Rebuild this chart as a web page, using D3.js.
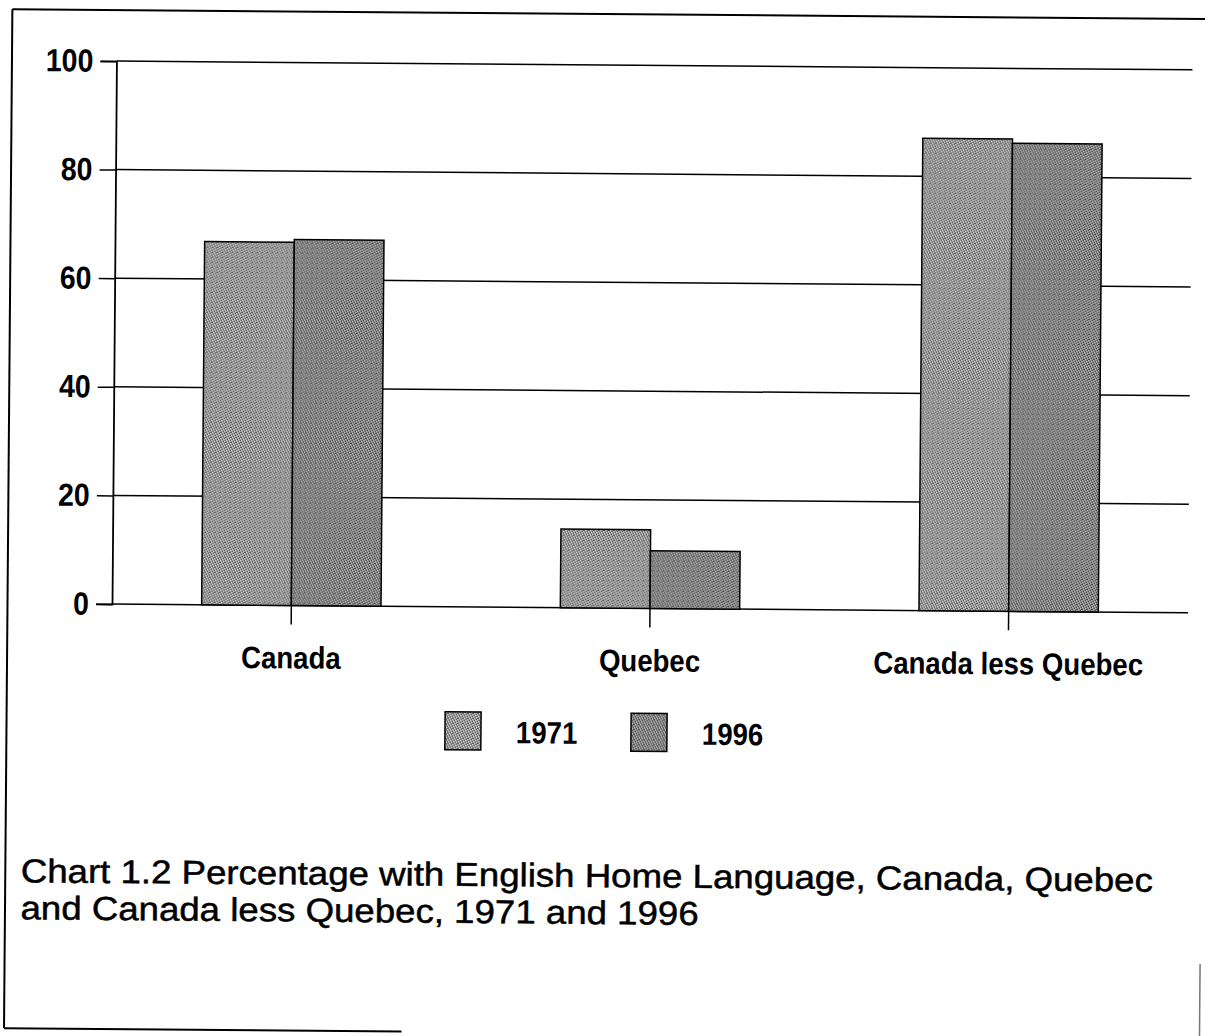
<!DOCTYPE html>
<html>
<head>
<meta charset="utf-8">
<script src="https://cdn.jsdelivr.net/npm/d3@7"></script>
<style>
  body { margin: 0; background: #fff; }
  text { font-family: "Liberation Sans", Arial, sans-serif; fill: #000; }
</style>
</head>
<body>
<div id="chart"></div>
<script>
// values
const categories = ["Canada", "Quebec", "Canada less Quebec"];
const years = ["1971", "1996"];
const values1971 = [66.9, 14.5, 87.0];
const values1996 = [67.4, 10.6, 86.2];
const yTicks = [0, 20, 40, 60, 80, 100];
const titleLines = [
    "Chart 1.2 Percentage with English Home Language, Canada, Quebec",
    "and Canada less Quebec, 1971 and 1996"
];

const width = 1205, height = 1036;
const plotLeft = 112, plotRight = 1188, plotTop = 61, plotBottom = 604;
const squeeze = 0.89; // bold labels in the scan are a little narrow

const svg = d3.select("#chart")
    .append("svg")
    .attr("width", width)
    .attr("height", height);

// stipple so the bars look like the scan
const defs = svg.append("defs");
function stipple(id, base, dark, light) {
    const p = defs.append("pattern")
        .attr("id", id)
        .attr("width", 5).attr("height", 5)
        .attr("patternUnits", "userSpaceOnUse");
    p.append("rect").attr("width", 5).attr("height", 5).attr("fill", base);
    [[0, 0], [3, 1], [1, 2], [4, 3], [2, 4], [2, 1]].forEach(d => {
        p.append("rect").attr("x", d[0]).attr("y", d[1]).attr("width", 1).attr("height", 1).attr("fill", dark);
    });
    [[1, 0], [4, 1], [0, 3], [3, 4], [2, 2]].forEach(d => {
        p.append("rect").attr("x", d[0]).attr("y", d[1]).attr("width", 1).attr("height", 1).attr("fill", light);
    });
}
stipple("fill1971", "#9a9a9a", "#555", "#d6d6d6");
stipple("fill1996", "#868686", "#444", "#c0c0c0");

// the scanned page is tilted a little clockwise
const page = svg.append("g")
    .attr("transform", `rotate(0.47, ${plotLeft}, ${plotBottom})`);

// frame (partly lost in the scan)
page.append("line").attr("x1", 7.5).attr("y1", 10).attr("x2", 1203).attr("y2", 10)
    .attr("stroke", "#000").attr("stroke-width", 2);
page.append("line").attr("x1", 7.5).attr("y1", 10).attr("x2", 7.5).attr("y2", 1029)
    .attr("stroke", "#000").attr("stroke-width", 2);
page.append("line").attr("x1", 7.5).attr("y1", 1029).attr("x2", 405).attr("y2", 1029)
    .attr("stroke", "#000").attr("stroke-width", 2);
page.append("line").attr("x1", 1203).attr("y1", 955).attr("x2", 1203).attr("y2", 1029)
    .attr("stroke", "#777").attr("stroke-width", 1.5);

const x0 = d3.scaleBand()
    .domain(categories)
    .range([plotLeft, plotRight])
    .paddingInner(0.5)
    .paddingOuter(0.25);

const x1 = d3.scaleBand()
    .domain(years)
    .range([0, x0.bandwidth()]);

const y = d3.scaleLinear()
    .domain([0, 100])
    .range([plotBottom, plotTop]);

// gridlines
page.append("g")
    .selectAll("line")
    .data(yTicks)
    .join("line")
    .attr("x1", plotLeft)
    .attr("x2", plotRight)
    .attr("y1", d => y(d))
    .attr("y2", d => y(d))
    .attr("stroke", "#000")
    .attr("stroke-width", 1.5);

// y axis
const yAxis = page.append("g")
    .attr("transform", `translate(${plotLeft},0)`)
    .call(d3.axisLeft(y).tickValues(yTicks).tickSize(16).tickPadding(10).tickFormat(d3.format("d")));
yAxis.select(".domain").attr("stroke-width", 1.8);
yAxis.selectAll(".tick line").attr("stroke-width", 1.5);
yAxis.selectAll(".tick text")
    .attr("font-size", 32)
    .attr("font-weight", "bold")
    .attr("font-family", "Liberation Sans, Arial, sans-serif")
    .attr("transform", `scale(${squeeze},1)`);

// bars
const rows = categories.map((c, i) => ({
    category: c,
    bars: [
        {year: "1971", value: values1971[i]},
        {year: "1996", value: values1996[i]}
    ]
}));

page.append("g")
    .selectAll("g")
    .data(rows)
    .join("g")
    .attr("transform", d => `translate(${x0(d.category)},0)`)
    .selectAll("rect")
    .data(d => d.bars)
    .join("rect")
    .attr("x", d => x1(d.year))
    .attr("y", d => y(d.value))
    .attr("width", x1.bandwidth())
    .attr("height", d => y(0) - y(d.value))
    .attr("fill", d => `url(#fill${d.year})`)
    .attr("stroke", "#000")
    .attr("stroke-width", 1.5);

// x axis ticks and labels
const xAxis = page.append("g")
    .attr("transform", `translate(0,${plotBottom})`)
    .call(d3.axisBottom(x0).tickSize(19).tickPadding(22).tickSizeOuter(0));
xAxis.select(".domain").remove();
xAxis.selectAll(".tick line").attr("stroke-width", 1.5);
xAxis.selectAll(".tick text")
    .attr("font-size", 31)
    .attr("font-weight", "bold")
    .attr("font-family", "Liberation Sans, Arial, sans-serif")
    .attr("transform", `scale(${squeeze},1)`);

// legend
const legend = page.append("g")
    .selectAll("g")
    .data(years)
    .join("g")
    .attr("transform", (d, i) => `translate(${446 + i * 186},709)`);
legend.append("rect")
    .attr("width", 36)
    .attr("height", 38)
    .attr("fill", d => `url(#fill${d})`)
    .attr("stroke", "#000")
    .attr("stroke-width", 1.5);
legend.append("text")
    .attr("transform", `translate(71,31) scale(${squeeze},1)`)
    .attr("font-size", 31)
    .attr("font-weight", "bold")
    .text(d => d);

// title (plain weight, a bit heavier from the scan)
page.append("g")
    .selectAll("text")
    .data(titleLines)
    .join("text")
    .attr("transform", (d, i) => `translate(23,${883 + i * 37}) scale(1.11,1)`)
    .attr("font-size", 33)
    .attr("stroke", "#000")
    .attr("stroke-width", 0.5)
    .text(d => d);
</script>
</body>
</html>
